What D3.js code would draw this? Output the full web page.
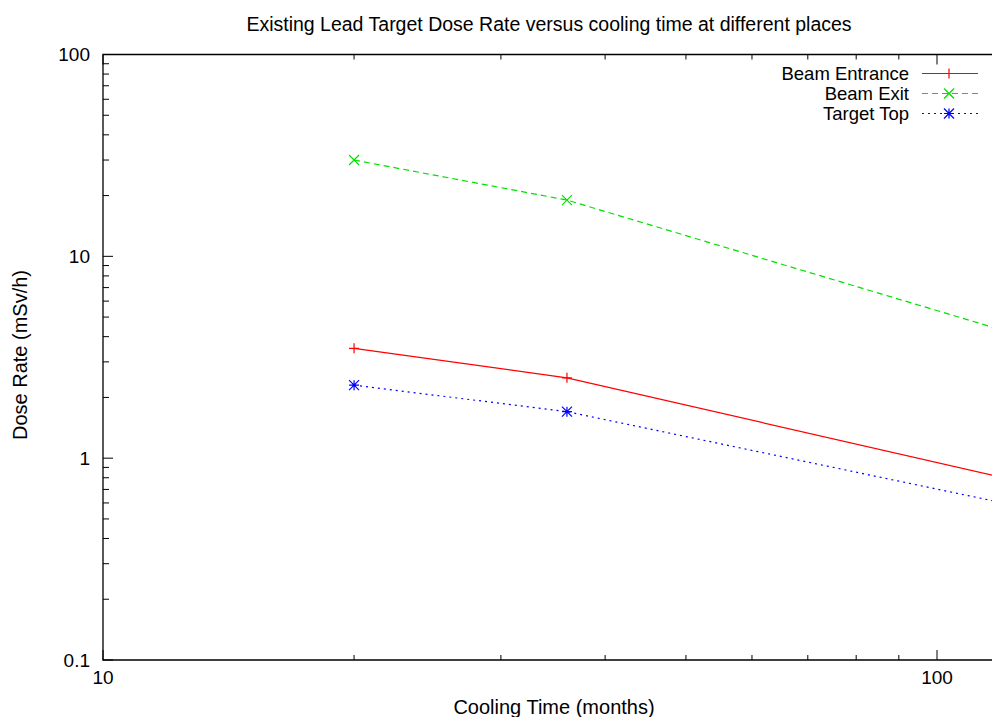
<!DOCTYPE html>
<html>
<head>
<meta charset="utf-8">
<script src="https://cdn.jsdelivr.net/npm/d3@7"></script>
<style>
  body { margin: 0; background: #fff; }
  text { font-family: "Liberation Sans", Arial, sans-serif; fill: #000; }
</style>
</head>
<body>
<div class="chart"></div>
<script>
// data (months, mSv/h)
const coolingTime = [20, 36, 120];
const beamEntrance = [3.5, 2.5, 0.8];
const beamExit = [30, 19, 4.3];
const targetTop = [2.3, 1.7, 0.6];
const seriesNames = ["Beam Entrance", "Beam Exit", "Target Top"];
const yTickLabels = [0.1, 1, 10, 100];
const xTickLabels = [10, 100];

const W = 992, H = 717;
var margin = {top: 54.5, left: 103, bottom: 57};
var height = H - margin.top - margin.bottom;
var decade = 834; // px per decade on x
var xMax = 116.5;

const svg = d3.select(".chart").append("svg")
    .attr("width", W)
    .attr("height", H);

const xScale = d3.scaleLog()
    .domain([10, xMax])
    .range([margin.left, margin.left + decade * Math.log10(xMax / 10)]);

const yScale = d3.scaleLog()
    .domain([0.1, 100])
    .range([margin.top + height, margin.top]);

svg.append("clipPath").attr("id", "clip")
  .append("rect")
    .attr("x", margin.left).attr("y", margin.top)
    .attr("width", W - margin.left).attr("height", height);

// minor/major ticks
const yTicks = [];
for (let e = -1; e < 2; e++) for (let m = 1; m < 10; m++) yTicks.push(m * Math.pow(10, e));
yTicks.push(100);
const xTicks = [];
for (let e = 1; e < 3; e++) for (let m = 1; m < 10; m++) if (m * Math.pow(10, e) <= xMax) xTicks.push(m * Math.pow(10, e));

const isMajor = v => Math.abs(Math.log10(v) - Math.round(Math.log10(v))) < 1e-9;

const axes = svg.append("g").attr("stroke", "#000").attr("stroke-width", 1);

axes.selectAll(".yt").data(yTicks).enter().append("line")
    .attr("x1", margin.left).attr("x2", d => margin.left + (isMajor(d) ? 10 : 6))
    .attr("y1", d => yScale(d)).attr("y2", d => yScale(d));

axes.selectAll(".xb").data(xTicks).enter().append("line")
    .attr("x1", d => xScale(d)).attr("x2", d => xScale(d))
    .attr("y1", margin.top + height).attr("y2", d => margin.top + height - (isMajor(d) ? 10 : 5));

axes.selectAll(".xt").data(xTicks).enter().append("line")
    .attr("x1", d => xScale(d)).attr("x2", d => xScale(d))
    .attr("y1", margin.top).attr("y2", d => margin.top + (isMajor(d) ? 10 : 5));

axes.append("path")
    .attr("fill", "none")
    .attr("stroke-width", 1.3)
    .attr("d", `M${W},${margin.top}H${margin.left}V${margin.top + height}H${W}`);

svg.selectAll(".ylbl").data(yTickLabels).enter().append("text")
    .attr("x", 90).attr("y", d => yScale(d))
    .attr("dy", "0.35em")
    .attr("text-anchor", "end")
    .attr("font-size", 19)
    .text(d => d);

svg.selectAll(".xlbl").data(xTickLabels).enter().append("text")
    .attr("x", d => xScale(d)).attr("y", 677)
    .attr("dy", "0.35em")
    .attr("text-anchor", "middle")
    .attr("font-size", 19)
    .text(d => d);

svg.append("text")
    .attr("x", 549).attr("y", 31)
    .attr("text-anchor", "middle")
    .attr("font-size", 19.5)
    .text("Existing Lead Target Dose Rate versus cooling time at different places");

svg.append("text")
    .attr("x", 554).attr("y", 714)
    .attr("text-anchor", "middle")
    .attr("font-size", 20)
    .text("Cooling Time (months)");

svg.append("text")
    .attr("transform", "translate(27,355) rotate(-90)")
    .attr("text-anchor", "middle")
    .attr("font-size", 20)
    .text("Dose Rate (mSv/h)");

// series
const series = [
  {name: seriesNames[0], values: beamEntrance, color: "#ff0000", dash: null, marker: "plus"},
  {name: seriesNames[1], values: beamExit, color: "#00e000", dash: "6,4", marker: "cross"},
  {name: seriesNames[2], values: targetTop, color: "#0000ff", dash: "2,4", marker: "star"}
];

function markerPath(type, x, y) {
  const s = 5;
  const p = `M${x - s},${y}H${x + s}M${x},${y - s}V${y + s}`;
  const c = `M${x - s},${y - s}L${x + s},${y + s}M${x - s},${y + s}L${x + s},${y - s}`;
  if (type === "plus") return p;
  if (type === "cross") return c;
  return p + c;
}

const line = d3.line()
    .x(d => xScale(d[0]))
    .y(d => yScale(d[1]));

const plot = svg.append("g").attr("clip-path", "url(#clip)");

series.forEach(s => {
  const pts = coolingTime.map((t, i) => [t, s.values[i]]);
  plot.append("path")
      .datum(pts)
      .attr("fill", "none")
      .attr("stroke", s.color)
      .attr("stroke-width", 1.2)
      .attr("stroke-dasharray", s.dash)
      .attr("d", line);
  plot.selectAll(null).data(pts).enter().append("path")
      .attr("fill", "none")
      .attr("stroke", s.color)
      .attr("stroke-width", 1.2)
      .attr("d", d => markerPath(s.marker, xScale(d[0]), yScale(d[1])));
});

// legend
const legend = svg.append("g");
series.forEach((s, i) => {
  const y = 73.5 + i * 20;
  legend.append("text")
      .attr("x", 909).attr("y", y)
      .attr("dy", "0.35em")
      .attr("text-anchor", "end")
      .attr("font-size", 18.5)
      .text(s.name);
  legend.append("line")
      .attr("x1", 922).attr("x2", 978)
      .attr("y1", y).attr("y2", y)
      .attr("stroke", s.color)
      .attr("stroke-width", 1.2)
      .attr("stroke-dasharray", s.dash);
  legend.append("path")
      .attr("fill", "none")
      .attr("stroke", s.color)
      .attr("stroke-width", 1.2)
      .attr("d", markerPath(s.marker, 949, y));
});
</script>
</body>
</html>
